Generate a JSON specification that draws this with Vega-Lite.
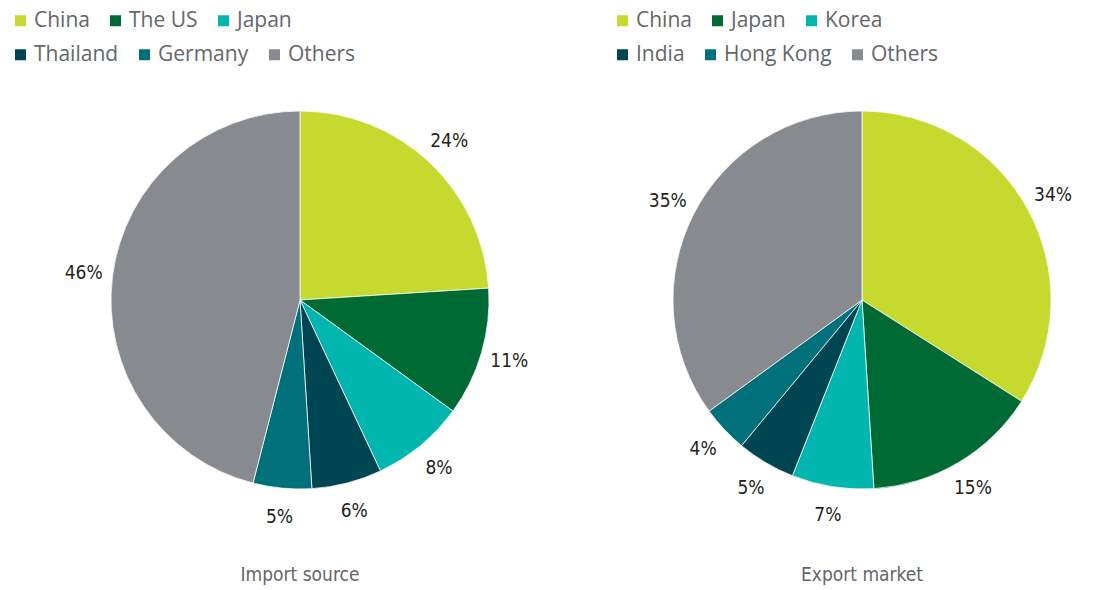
{
  "$schema": "https://vega.github.io/schema/vega-lite/v6.json",
  "padding": {"left": 10, "top": 10, "right": 0, "bottom": 0},
  "background": "white",
  "datasets": {
    "imp": [
      {"cat": "China", "v": 24, "idx": 1, "label": "24%"},
      {"cat": "The US", "v": 11, "idx": 2, "label": "11%"},
      {"cat": "Japan", "v": 8, "idx": 3, "label": "8%"},
      {"cat": "Thailand", "v": 6, "idx": 4, "label": "6%"},
      {"cat": "Germany", "v": 5, "idx": 5, "label": "5%"},
      {"cat": "Others", "v": 46, "idx": 6, "label": "46%"}
    ],
    "exp": [
      {"cat": "China", "v": 34, "idx": 1, "label": "34%"},
      {"cat": "Japan", "v": 15, "idx": 2, "label": "15%"},
      {"cat": "Korea", "v": 7, "idx": 3, "label": "7%"},
      {"cat": "India", "v": 5, "idx": 4, "label": "5%"},
      {"cat": "Hong Kong", "v": 4, "idx": 5, "label": "4%"},
      {"cat": "Others", "v": 35, "idx": 6, "label": "35%"}
    ]
  },
  "spacing": 82,
  "hconcat": [
    {
      "width": 460,
      "height": 580,
      "data": {"name": "imp"},
      "title": {"text": "Import source", "orient": "bottom", "offset": -24},
      "layer": [
        {
          "mark": {"type": "arc", "outerRadius": 189, "stroke": "white", "strokeWidth": 0.75},
          "encoding": {
            "theta": {"field": "v", "type": "quantitative", "stack": true},
            "order": {"field": "idx", "type": "quantitative"},
            "color": {
              "field": "cat", "type": "nominal",
              "scale": {"domain": ["China", "The US", "Japan", "Thailand", "Germany", "Others"],
                        "range": ["#c6d92e", "#006a35", "#00b6ae", "#004552", "#00717b", "#878a8f"]},
              "legend": {"title": null, "orient": "none", "legendX": -60, "legendY": 0, "direction": "horizontal", "values": ["China", "The US", "Japan"]}
            }
          }
        },
        {
          "mark": {"type": "arc", "outerRadius": 189, "stroke": "white", "strokeWidth": 0.75},
          "encoding": {
            "theta": {"field": "v", "type": "quantitative", "stack": true},
            "order": {"field": "idx", "type": "quantitative"},
            "fill": {
              "field": "cat", "type": "nominal",
              "scale": {"domain": ["Thailand", "Germany", "Others", "China", "The US", "Japan"],
                        "range": ["#004552", "#00717b", "#878a8f", "#c6d92e", "#006a35", "#00b6ae"]},
              "legend": {"title": null, "orient": "none", "legendX": -60, "legendY": 34, "direction": "horizontal", "values": ["Thailand", "Germany", "Others"]}
            }
          }
        },
        {
          "mark": {"type": "text", "radius": 218, "font": "DejaVu Sans Condensed", "fontSize": 19, "color": "#231f20"},
          "encoding": {
            "theta": {"field": "v", "type": "quantitative", "stack": true},
            "order": {"field": "idx", "type": "quantitative"},
            "text": {"field": "label", "type": "nominal"}
          }
        }
      ]
    },
    {
      "width": 460,
      "height": 580,
      "data": {"name": "exp"},
      "title": {"text": "Export market", "orient": "bottom", "offset": -24},
      "layer": [
        {
          "mark": {"type": "arc", "outerRadius": 189, "stroke": "white", "strokeWidth": 0.75},
          "encoding": {
            "theta": {"field": "v", "type": "quantitative", "stack": true},
            "order": {"field": "idx", "type": "quantitative"},
            "color": {
              "field": "cat", "type": "nominal",
              "scale": {"domain": ["China", "Japan", "Korea", "India", "Hong Kong", "Others"],
                        "range": ["#c6d92e", "#006a35", "#00b6ae", "#004552", "#00717b", "#878a8f"]},
              "legend": {"title": null, "orient": "none", "legendX": -20, "legendY": 0, "direction": "horizontal", "values": ["China", "Japan", "Korea"]}
            }
          }
        },
        {
          "mark": {"type": "arc", "outerRadius": 189, "stroke": "white", "strokeWidth": 0.75},
          "encoding": {
            "theta": {"field": "v", "type": "quantitative", "stack": true},
            "order": {"field": "idx", "type": "quantitative"},
            "fill": {
              "field": "cat", "type": "nominal",
              "scale": {"domain": ["India", "Hong Kong", "Others", "China", "Japan", "Korea"],
                        "range": ["#004552", "#00717b", "#878a8f", "#c6d92e", "#006a35", "#00b6ae"]},
              "legend": {"title": null, "orient": "none", "legendX": -20, "legendY": 34, "direction": "horizontal", "values": ["India", "Hong Kong", "Others"]}
            }
          }
        },
        {
          "mark": {"type": "text", "radius": 218, "font": "DejaVu Sans Condensed", "fontSize": 19, "color": "#231f20"},
          "encoding": {
            "theta": {"field": "v", "type": "quantitative", "stack": true},
            "order": {"field": "idx", "type": "quantitative"},
            "text": {"field": "label", "type": "nominal"}
          }
        }
      ]
    }
  ],
  "resolve": {"scale": {"color": "independent", "fill": "independent", "theta": "independent"}, "legend": {"color": "independent", "fill": "independent"}},
  "config": {
    "view": {"stroke": null},
    "legend": {
      "padding": 0,
      "symbolType": "square", "symbolSize": 121, "symbolStrokeWidth": 0, "symbolOpacity": 1,
      "labelFont": "Open Sans", "labelFontSize": 21, "labelColor": "#63666a",
      "labelOffset": 3, "columnPadding": 15, "labelLimit": 300
    },
    "title": {"font": "DejaVu Sans Condensed", "fontSize": 19, "fontWeight": "normal", "color": "#63666a"}
  }
}
